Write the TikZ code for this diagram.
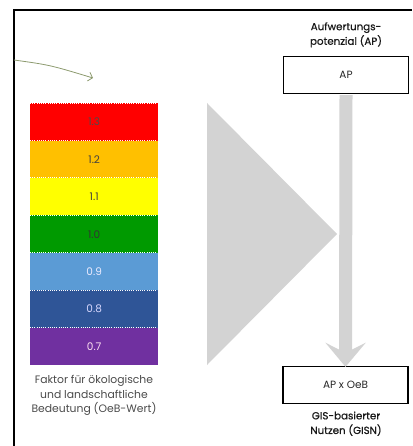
\documentclass[tikz,border=0pt]{standalone}
\usepackage{fontspec}
\setmainfont{Poppins}
\newfontfamily\medfont{Poppins}[UprightFeatures={FakeBold=0.7}]
\usetikzlibrary{arrows.meta}
\definecolor{cRed}{HTML}{FF0000}
\definecolor{cOrange}{HTML}{FFC000}
\definecolor{cYellow}{HTML}{FFFF00}
\definecolor{cGreen}{HTML}{009A00}
\definecolor{cLBlue}{HTML}{5B9BD5}
\definecolor{cDBlue}{HTML}{2F5597}
\definecolor{cPurple}{HTML}{7030A0}
\definecolor{cGray}{HTML}{D3D3D3}
\definecolor{cOlive}{HTML}{8C9A6E}
\definecolor{cText}{HTML}{4A4A4A}
\begin{document}
\begin{tikzpicture}[x=1pt,y=-1pt,
  bar/.style={draw=none,minimum width=128pt,minimum height=37.43pt,inner sep=0pt,anchor=north west,font=\fontsize{10.5}{11}\selectfont},
  sep/.style={white,line width=1.2pt,dash pattern=on 1pt off 1.2pt},
  box/.style={draw=black,line width=1.3pt,minimum width=125pt,minimum height=37pt,inner sep=0pt,font=\fontsize{10.5}{11}\selectfont,text=black!85},
  lbl/.style={align=center,font=\fontsize{10.8}{14.6}\selectfont},
  hlbl/.style={align=center,font=\medfont\fontsize{10.3}{14.6}\selectfont},
  flow/.style={cGray,line width=13pt,-{Stealth[length=24pt,width=40pt,inset=10pt]}},
  hint/.style={cOlive,line width=0.8pt,-{Straight Barb[length=4pt,width=9pt]}}
]
\useasboundingbox (0,0) rectangle (412,446);
% frame
\draw[line width=2.2pt,black] (14,446) -- (14,10) -- (412,10);
% green hint arrow
\coordinate (g1) at (14,60);
\coordinate (g2) at (93,78);
\draw[hint] (g1) .. controls (50,65) .. (g2);
% colour bars
\node[bar,fill=cRed,text=black!70] (b13) at (30,103) {1.3};
\node[bar,fill=cOrange,text=black!75] (b12) at (30,140.43) {1.2};
\node[bar,fill=cYellow,text=black!75] (b11) at (30,177.86) {1.1};
\node[bar,fill=cGreen,text=black!80] (b10) at (30,215.29) {1.0};
\node[bar,fill=cLBlue,text=white!92!blue] (b09) at (30,252.72) {0.9};
\node[bar,fill=cDBlue,text=white!85!blue] (b08) at (30,290.15) {0.8};
\node[bar,fill=cPurple,text=white!88!magenta] (b07) at (30,327.58) {0.7};
\foreach \n in {b13,b12,b11,b10,b09,b08,b07}{
  \draw[sep] (\n.north west) -- (\n.north east);
}
\draw[sep] (b07.south west) -- (b07.south east);
\node[lbl,text=cText,anchor=north] (oeb) at (94,372) {Faktor für ökologische\\und landschaftliche\\Bedeutung (OeB-Wert)};
% big triangle
\fill[cGray] (207,103) -- (337,234) -- (207,365) -- cycle;
% boxes
\node[box] (ap) at (346,75) {AP};
\node[box] (res) at (345.5,385) {AP x OeB};
\node[hlbl,text=black!90,anchor=south] (aplbl) at (346,51) {Aufwertungs-\\potenzial (AP)};
\node[hlbl,text=black!90,anchor=north] (reslbl) at (346,408) {GIS-basierter\\Nutzen (GISN)};
% flow arrow
\draw[flow] ([yshift=-1pt]ap.south) -- ([yshift=-1pt]res.north);
\end{tikzpicture}
\end{document}
